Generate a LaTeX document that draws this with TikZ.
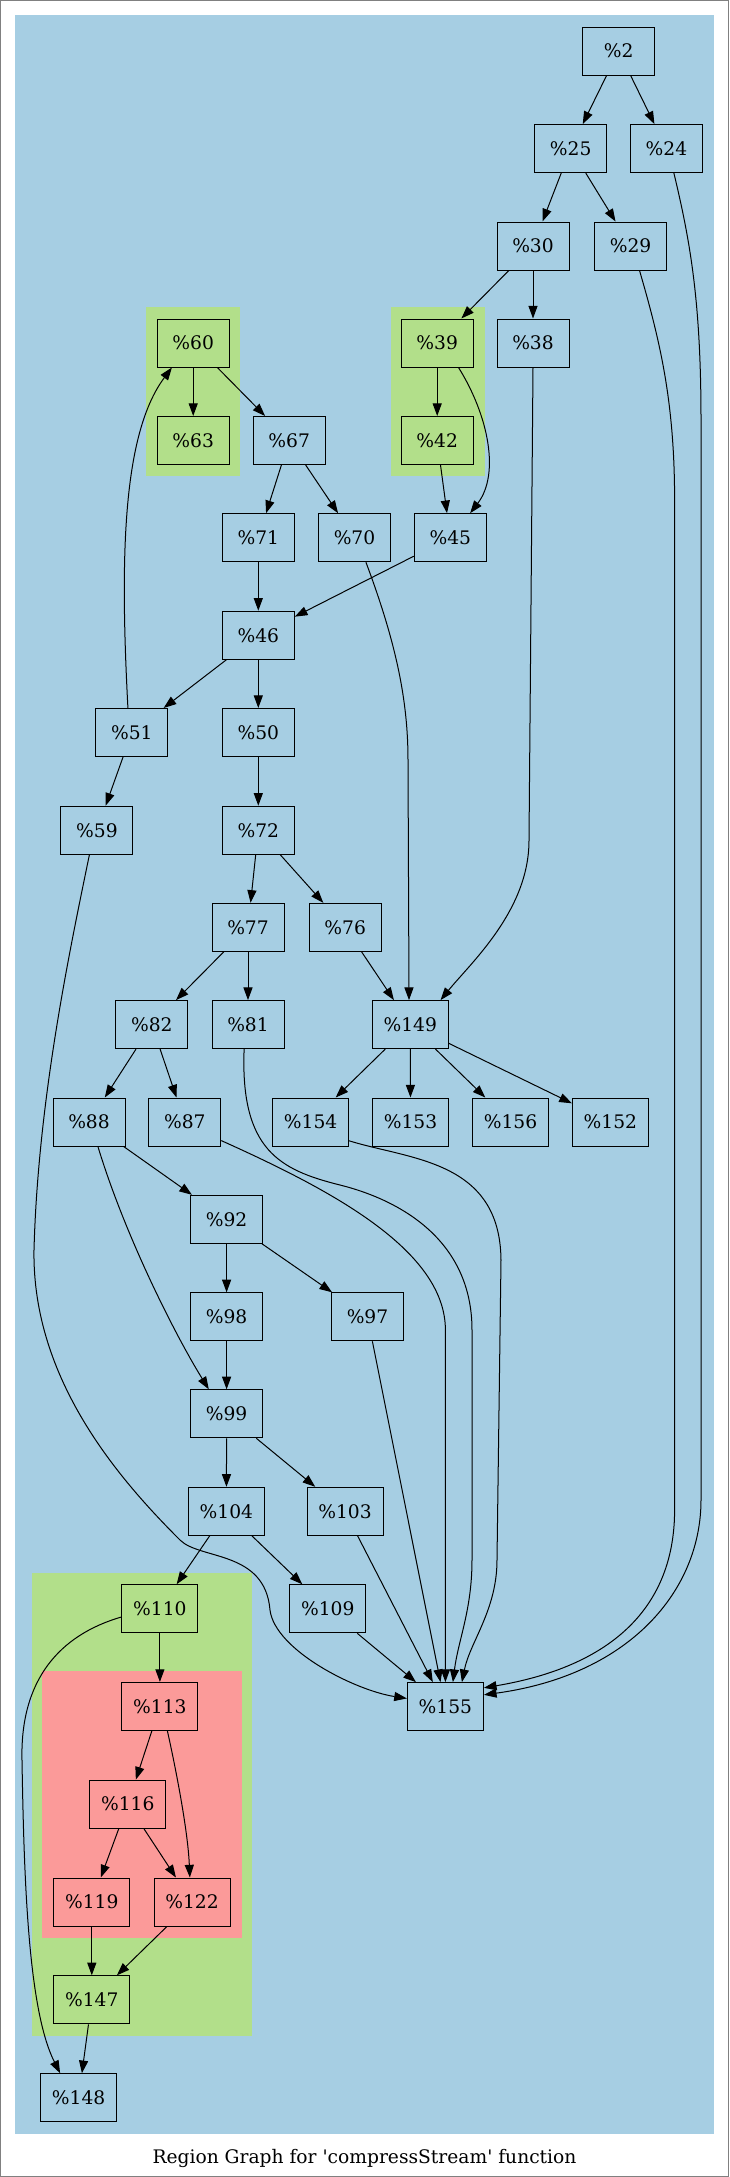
\documentclass[tikz,border=0pt]{standalone}
\usepackage{fontspec}
\setmainfont{DejaVu Serif}
\usetikzlibrary{arrows.meta}

\definecolor{regblue}{HTML}{A6CEE3}
\definecolor{reggreen}{HTML}{B2DF8A}
\definecolor{regred}{HTML}{FB9A99}

\begin{document}
\begin{tikzpicture}[x=0.75pt, y=-0.75pt,
    blk/.style={draw=black, fill=regblue, line width=0.75pt, minimum width=54pt, minimum height=36pt, inner sep=0pt, font=\fontsize{14}{16}\selectfont},
    wide/.style={minimum width=57pt},
    ingreen/.style={fill=reggreen},
    inred/.style={fill=regred},
    edge/.style={-{Triangle[length=9.5pt,width=6.8pt]}, line width=0.75pt},
]
    \useasboundingbox (0,0) rectangle (729,2177);

    % =========================================================
    % FRAME AND REGION BACKGROUNDS
    % =========================================================
    \draw[gray, line width=0.75pt] (0.5,0.5) rectangle (728.5,2176.5);
    \fill[regblue] (15.3,15.4) rectangle (713.6,2133.6);
    \fill[reggreen] (146.4,307) rectangle (239.9,476.4);
    \fill[reggreen] (390.5,307) rectangle (484.9,476.4);
    \fill[reggreen] (31.6,1572.9) rectangle (252.4,2036);
    \fill[regred] (41.8,1670.7) rectangle (242.2,1937.9);

    % =========================================================
    % BLOCKS
    % =========================================================
    \node[blk] (n2) at (618.6,51) {\%2};
    \node[blk] (n25) at (570.7,148.6) {\%25};
    \node[blk] (n24) at (666.4,148.6) {\%24};
    \node[blk] (n30) at (533,246) {\%30};
    \node[blk] (n29) at (630.6,246) {\%29};
    \node[blk, ingreen] (n60) at (193.2,343) {\%60};
    \node[blk, ingreen] (n39) at (437.2,343) {\%39};
    \node[blk] (n38) at (533,343) {\%38};
    \node[blk, ingreen] (n63) at (193.2,440.5) {\%63};
    \node[blk] (n67) at (289.2,440.5) {\%67};
    \node[blk, ingreen] (n42) at (437.2,440.5) {\%42};
    \node[blk] (n71) at (258.3,537.7) {\%71};
    \node[blk] (n70) at (354.5,537.7) {\%70};
    \node[blk] (n45) at (450.3,537.7) {\%45};
    \node[blk] (n46) at (258.3,635.2) {\%46};
    \node[blk] (n51) at (131.8,732.5) {\%51};
    \node[blk] (n50) at (258.3,732.5) {\%50};
    \node[blk] (n59) at (96.9,830.2) {\%59};
    \node[blk] (n72) at (258.3,830.2) {\%72};
    \node[blk] (n77) at (248,927.3) {\%77};
    \node[blk] (n76) at (345.2,927.3) {\%76};
    \node[blk] (n82) at (151.8,1024.6) {\%82};
    \node[blk] (n81) at (248,1024.6) {\%81};
    \node[blk, wide] (n149) at (410.3,1024.6) {\%149};
    \node[blk] (n88) at (89,1122) {\%88};
    \node[blk] (n87) at (184.8,1122) {\%87};
    \node[blk, wide] (n154) at (310.6,1122) {\%154};
    \node[blk, wide] (n153) at (410.5,1122) {\%153};
    \node[blk, wide] (n156) at (510.5,1122) {\%156};
    \node[blk, wide] (n152) at (610.4,1122) {\%152};
    \node[blk] (n92) at (226.6,1219.3) {\%92};
    \node[blk] (n98) at (226.6,1316.8) {\%98};
    \node[blk] (n97) at (367.5,1316.8) {\%97};
    \node[blk] (n99) at (226.6,1413.8) {\%99};
    \node[blk, wide] (n104) at (226.4,1511.3) {\%104};
    \node[blk, wide] (n103) at (345,1511.3) {\%103};
    \node[blk, wide, ingreen] (n110) at (159.9,1608.8) {\%110};
    \node[blk, wide] (n109) at (327.8,1608.8) {\%109};
    \node[blk, wide, inred] (n113) at (159.9,1706.4) {\%113};
    \node[blk, wide] (n155) at (445.4,1706.6) {\%155};
    \node[blk, wide, inred] (n116) at (127.8,1804.1) {\%116};
    \node[blk, wide, inred] (n119) at (91.8,1902) {\%119};
    \node[blk, wide, inred] (n122) at (192,1902) {\%122};
    \node[blk, wide, ingreen] (n147) at (91.8,1999.8) {\%147};
    \node[blk, wide] (n148) at (78.6,2097.7) {\%148};

    % Title
    \node[font=\fontsize{14}{16}\selectfont] (title) at (364.5,2158.6) {Region Graph for \textquotesingle compressStream\textquotesingle{} function};

    % =========================================================
    % STRAIGHT EDGES
    % =========================================================
    \draw[edge] (n2) -- (n25);
    \draw[edge] (n2) -- (n24);
    \draw[edge] (n25) -- (n30);
    \draw[edge] (n25) -- (n29);
    \draw[edge] (n30) -- (n39);
    \draw[edge] (n30) -- (n38);
    \draw[edge] (n39) -- (n42);
    \draw[edge] (n42) -- (n45);
    \draw[edge] (n60) -- (n63);
    \draw[edge] (n60) -- (n67);
    \draw[edge] (n67) -- (n71);
    \draw[edge] (n67) -- (n70);
    \draw[edge] (n71) -- (n46);
    \draw[edge] (n45) -- (n46);
    \draw[edge] (n46) -- (n51);
    \draw[edge] (n46) -- (n50);
    \draw[edge] (n51) -- (n59);
    \draw[edge] (n50) -- (n72);
    \draw[edge] (n72) -- (n77);
    \draw[edge] (n72) -- (n76);
    \draw[edge] (n77) -- (n82);
    \draw[edge] (n77) -- (n81);
    \draw[edge] (n76) -- (n149);
    \draw[edge] (n149) -- (n154);
    \draw[edge] (n149) -- (n153);
    \draw[edge] (n149) -- (n156);
    \draw[edge] (n149) -- (n152);
    \draw[edge] (n82) -- (n88);
    \draw[edge] (n82) -- (n87);
    \draw[edge] (n88) -- (n92);
    \draw[edge] (n92) -- (n98);
    \draw[edge] (n92) -- (n97);
    \draw[edge] (n98) -- (n99);
    \draw[edge] (n99) -- (n104);
    \draw[edge] (n99) -- (n103);
    \draw[edge] (n104) -- (n110);
    \draw[edge] (n104) -- (n109);
    \draw[edge] (n110) -- (n113);
    \draw[edge] (n113) -- (n116);
    \draw[edge] (n116) -- (n119);
    \draw[edge] (n116) -- (n122);
    \draw[edge] (n119) -- (n147);
    \draw[edge] (n122) -- (n147);
    \draw[edge] (n147) -- (n148);
    \draw[edge] (n103) -- (n155);
    \draw[edge] (n97) -- (n155);
    \draw[edge] (n109) -- (n155);

    % =========================================================
    % CURVED EDGES
    % =========================================================
    \draw[edge] (n39.-49) .. controls +(30,48) and +(30,-39) .. (n45.51);
    \draw[edge] (n51.99) .. controls +(-7.8,-148.6) and +(-50,67) .. (n60.-131);
    \draw[edge] (n70.-65) .. controls +(30,80) and +(0,-60) .. (408,760) -- (n149.93);
    \draw[edge] (n38.south) -- ++(-4,473) .. controls +(0,70) and +(30,-37) .. (n149.39);
    \draw[edge] (n88.-70) .. controls +(27,89) and +(-34,-55) .. (n99.126);
    \draw[edge] (n110.192) .. controls +(-62,18) and +(-2,-80) .. (22,1760)
                .. controls +(2,120) and +(-32,-63) .. (n148.127);
    \draw[edge] (n113.-73) .. controls +(7.6,34) and +(-2,-48) .. (n122.95);

    % Long edges into %155
    \draw[edge] (n59.-107) .. controls +(-19.7,95.7) and +(4,-150) .. (34,1250)
                .. controls +(-2,130) and +(-60,-60) .. (180,1540)
                .. controls +(20,20) and +(-5,-60) .. (270,1610)
                .. controls +(5,40) and +(-52,-8) .. (n155.168);
    \draw[edge] (n24.-73) .. controls +(16,67) and +(0,-120) .. (701,420) -- (701,1500)
                .. controls +(0,90) and +(146.6,-20) .. (n155.17);
    \draw[edge] (n29.-70) .. controls +(20,69) and +(0,-100) .. (674.6,500) -- (674.6,1510)
                .. controls +(0,90) and +(136.6,-23) .. (n155.26);
    \draw[edge] (n81.-99) .. controls +(-4,101) and +(-60,-15) .. (340,1185)
                .. controls +(60,15) and +(0,-90) .. (472,1330) -- (472,1560)
                .. controls +(0,50) and +(5.3,-42) .. (n155.73);
    \draw[edge] (n87.-27) .. controls +(109,49) and +(0,-80) .. (445.4,1330) -- (n155.north);
    \draw[edge] (n154.-26) .. controls +(61,19) and +(-1,-100) .. (501,1260) -- (497,1560)
                .. controls +(0,50) and +(8,-40) .. (n155.56);
\end{tikzpicture}
\end{document}
